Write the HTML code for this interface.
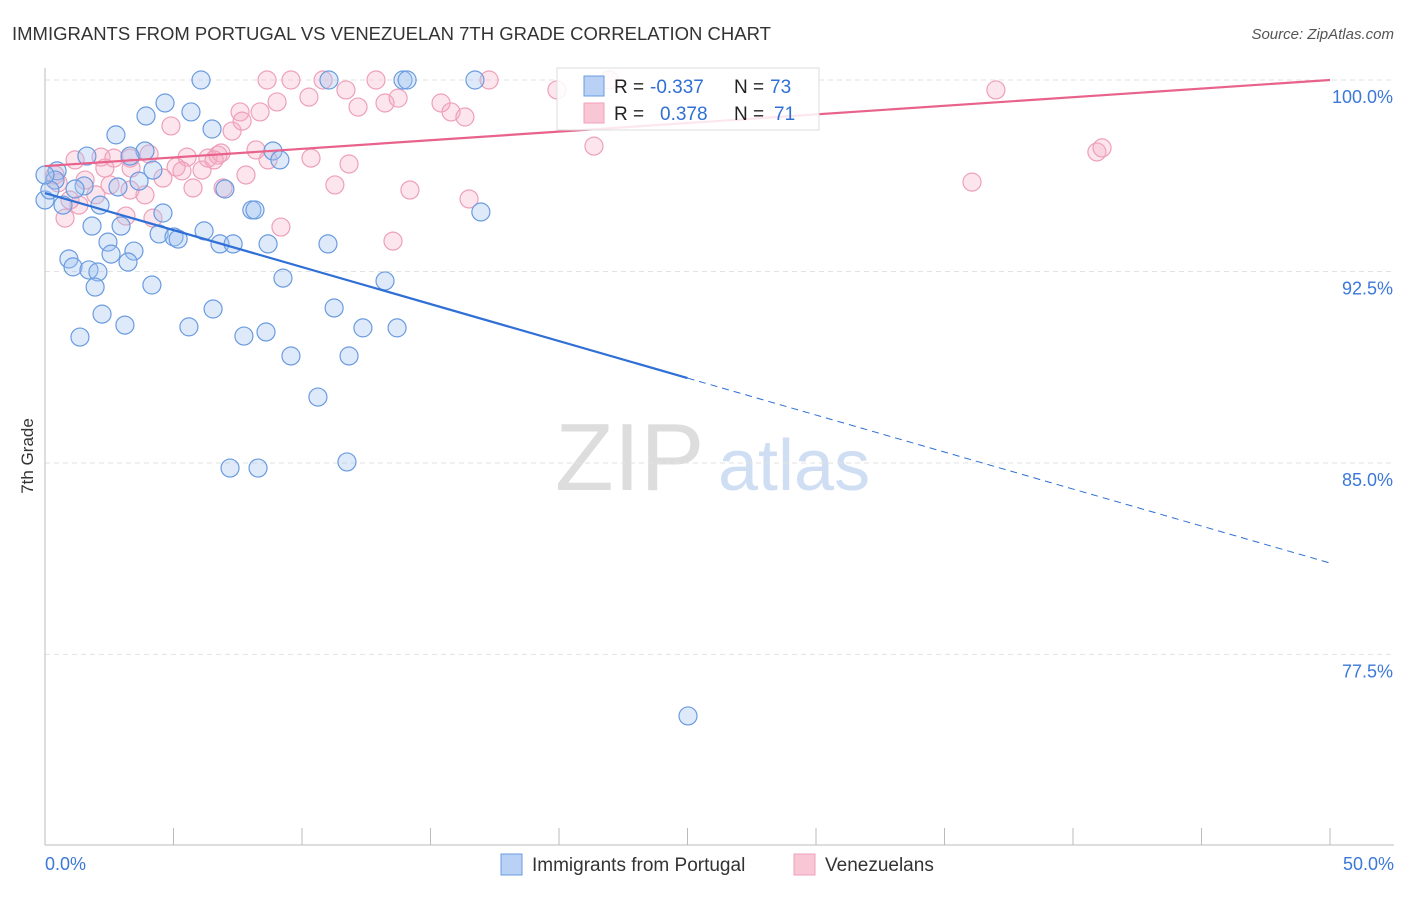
<!DOCTYPE html>
<html><head><meta charset="utf-8"><style>
body{margin:0;background:#fff;font-family:"Liberation Sans",sans-serif;}
svg text{font-family:"Liberation Sans",sans-serif;}
</style></head><body>
<svg width="1406" height="892" viewBox="0 0 1406 892">
<text x="12" y="40" font-size="18.5" fill="#333">IMMIGRANTS FROM PORTUGAL VS VENEZUELAN 7TH GRADE CORRELATION CHART</text>
<text x="1394" y="39" font-size="15" fill="#555" text-anchor="end" font-style="italic">Source: ZipAtlas.com</text>
<text x="33" y="456" font-size="17" fill="#333" text-anchor="middle" transform="rotate(-90 33 456)">7th Grade</text>
<g><text x="555" y="490" font-size="96" fill="#ddd" font-family="Liberation Serif,serif">ZIP</text><text x="718" y="490" font-size="72" fill="#cfdef3">atlas</text></g>
<g id="grid"></g><g id="axes"></g><g id="pts"></g><g id="lines"></g>
<g>
<rect x="557" y="68" width="262" height="62" fill="rgba(255,255,255,0.85)" stroke="#ddd"/>
<rect x="584" y="76" width="20" height="20" fill="#b8d1f5" stroke="#6a9be0"/>
<text y="93" font-size="19" fill="#222"><tspan x="614">R =</tspan><tspan x="650" fill="#2f6fd6">-0.337</tspan><tspan x="734">N =</tspan><tspan x="770" fill="#2f6fd6">73</tspan></text>
<rect x="584" y="103" width="20" height="20" fill="#f9c6d5" stroke="#eea0b8"/>
<text y="120" font-size="19" fill="#222"><tspan x="614">R =</tspan><tspan x="660" fill="#2f6fd6">0.378</tspan><tspan x="734">N =</tspan><tspan x="774" fill="#2f6fd6">71</tspan></text>
</g>
<g>
<rect x="501" y="854" width="21" height="21" fill="#b8d1f5" stroke="#6a9be0"/>
<text x="532" y="871" font-size="19" fill="#333">Immigrants from Portugal</text>
<rect x="794" y="854" width="21" height="21" fill="#f9c6d5" stroke="#eea0b8"/>
<text x="825" y="871" font-size="19" fill="#333">Venezuelans</text>
</g>
</svg>
<script>
const yTicks=[100,92.5,85,77.5];
const yTickLabels=["100.0%","92.5%","85.0%","77.5%"];
const xTickLabels=["0.0%","50.0%"];
const blueX=[6.07,11.05,13.93,14.09,16.73,4.67,5.68,3.93,6.50,2.76,8.87,3.89,3.31,1.63,9.14,4.20,3.66,0.47,0.39,1.52,2.84,1.17,2.14,0.70,7.00,4.59,16.96,8.05,8.17,1.83,2.96,6.19,4.44,5.02,5.18,2.45,6.81,7.32,8.68,11.01,3.46,2.57,0.93,3.23,1.09,1.71,2.06,9.26,13.23,1.95,4.16,6.54,11.25,2.22,3.11,5.60,12.37,13.70,7.74,8.60,1.36,9.57,11.83,10.62,7.20,8.29,11.75,25.02,0,0.19,0];
const blueY=[100,100,100,100,100,99.10,98.75,98.59,98.08,97.85,97.22,97.22,97.02,97.02,96.87,96.47,96.04,96.44,96.08,95.85,95.81,95.73,95.10,95.10,95.73,94.79,94.83,94.91,94.91,94.28,94.28,94.09,93.97,93.85,93.77,93.65,93.58,93.58,93.58,93.58,93.30,93.18,92.99,92.87,92.68,92.56,92.48,92.24,92.13,91.89,91.97,91.03,91.07,90.83,90.40,90.33,90.29,90.29,89.97,90.13,89.93,89.19,89.19,87.58,84.80,84.80,85.04,75.09,95.30,95.69,96.28];
const pinkX=[8.64,9.57,10.82,12.88,17.28,19.92,21.95,37.00,11.71,9.03,10.27,12.18,13.23,13.74,15.41,15.80,16.34,7.59,8.37,4.90,7.28,7.67,21.36,40.93,41.13,8.21,10.35,11.83,6.34,6.73,6.85,5.53,5.10,5.33,6.11,6.58,8.68,4.05,3.31,2.18,2.68,1.17,3.35,2.33,4.59,5.76,7.82,11.28,14.20,16.50,36.07,3.89,3.31,2.53,1.98,1.32,0.78,3.15,4.20,9.18,13.54,0.51,0.39,0.97,1.56,6.93];
const pinkY=[100,100,100,100,100,99.61,100,99.61,99.61,99.14,99.33,98.94,99.10,99.29,99.10,98.75,98.55,98.75,98.75,98.20,98.00,98.39,97.41,97.18,97.34,97.26,96.94,96.71,96.94,97.06,97.14,96.98,96.59,96.44,96.47,96.87,96.87,97.10,96.94,96.98,96.94,96.87,96.55,96.55,96.16,95.77,96.28,95.89,95.69,95.34,96.00,95.50,95.69,95.89,95.50,95.10,94.59,94.67,94.59,94.24,93.69,95.97,96.28,95.30,96.08,95.77];
const blueTrend=[95.57,81.08];
const pinkTrend=[96.63,100];
const NS='http://www.w3.org/2000/svg';
const sx=v=>45+v*25.7;
const sy=v=>80+(100-v)*25.53;
function mk(t,a,p){const e=document.createElementNS(NS,t);for(const k in a)e.setAttribute(k,a[k]);p.appendChild(e);return e;}
const grid=document.getElementById('grid'),axes=document.getElementById('axes'),pts=document.getElementById('pts'),lines=document.getElementById('lines');
yTicks.forEach((t,i)=>{
 const g=mk('line',{x1:45,x2:1394,y1:sy(t),y2:sy(t),stroke:'#e2e2e2','stroke-dasharray':'5,4'},grid);
 
 
 const l=mk('text',{x:1393,y:sy(t)+23,'font-size':18,fill:'#3b78d8','text-anchor':'end'},axes);l.textContent=yTickLabels[i];
 
 
});
const ax=mk('line',{x1:45,x2:45,y1:68,y2:845,stroke:'#bbb'},axes);


const bx=mk('line',{x1:45,x2:1394,y1:845,y2:845,stroke:'#bbb'},axes);


for(let v=0;v<=50;v+=5){const t=mk('line',{x1:sx(v),x2:sx(v),y1:828,y2:845,stroke:'#bbb'},axes);
 
 }
[[0,'start',45],[50,'end',1394]].forEach((d,i)=>{const l=mk('text',{x:d[2],y:870,'font-size':18,fill:'#3b78d8','text-anchor':d[1]},axes);l.textContent=xTickLabels[i];
 
 });
pinkX.forEach((x,i)=>{const c=mk('circle',{cx:sx(x),cy:sy(pinkY[i]),r:9,fill:'rgba(245,170,195,0.3)',stroke:'#eea0b8','stroke-width':1.2},pts);
 
 });
blueX.forEach((x,i)=>{const c=mk('circle',{cx:sx(x),cy:sy(blueY[i]),r:9,fill:'rgba(160,195,240,0.35)',stroke:'#6a9be0','stroke-width':1.2},pts);
 
 });
const by=x=>blueTrend[0]+(blueTrend[1]-blueTrend[0])*x/50;
const l1=mk('line',{x1:sx(0),y1:sy(by(0)),x2:sx(25),y2:sy(by(25)),stroke:'#2f6fd6','stroke-width':2.2},lines);


const l2=mk('line',{x1:sx(25),y1:sy(by(25)),x2:sx(50),y2:sy(by(50)),stroke:'#2f6fd6','stroke-width':1,'stroke-dasharray':'7,5'},lines);


const l3=mk('line',{x1:sx(0),y1:sy(pinkTrend[0]),x2:sx(50),y2:sy(pinkTrend[1]),stroke:'#e8628c','stroke-width':2.2},lines);


</script>
</body></html>
